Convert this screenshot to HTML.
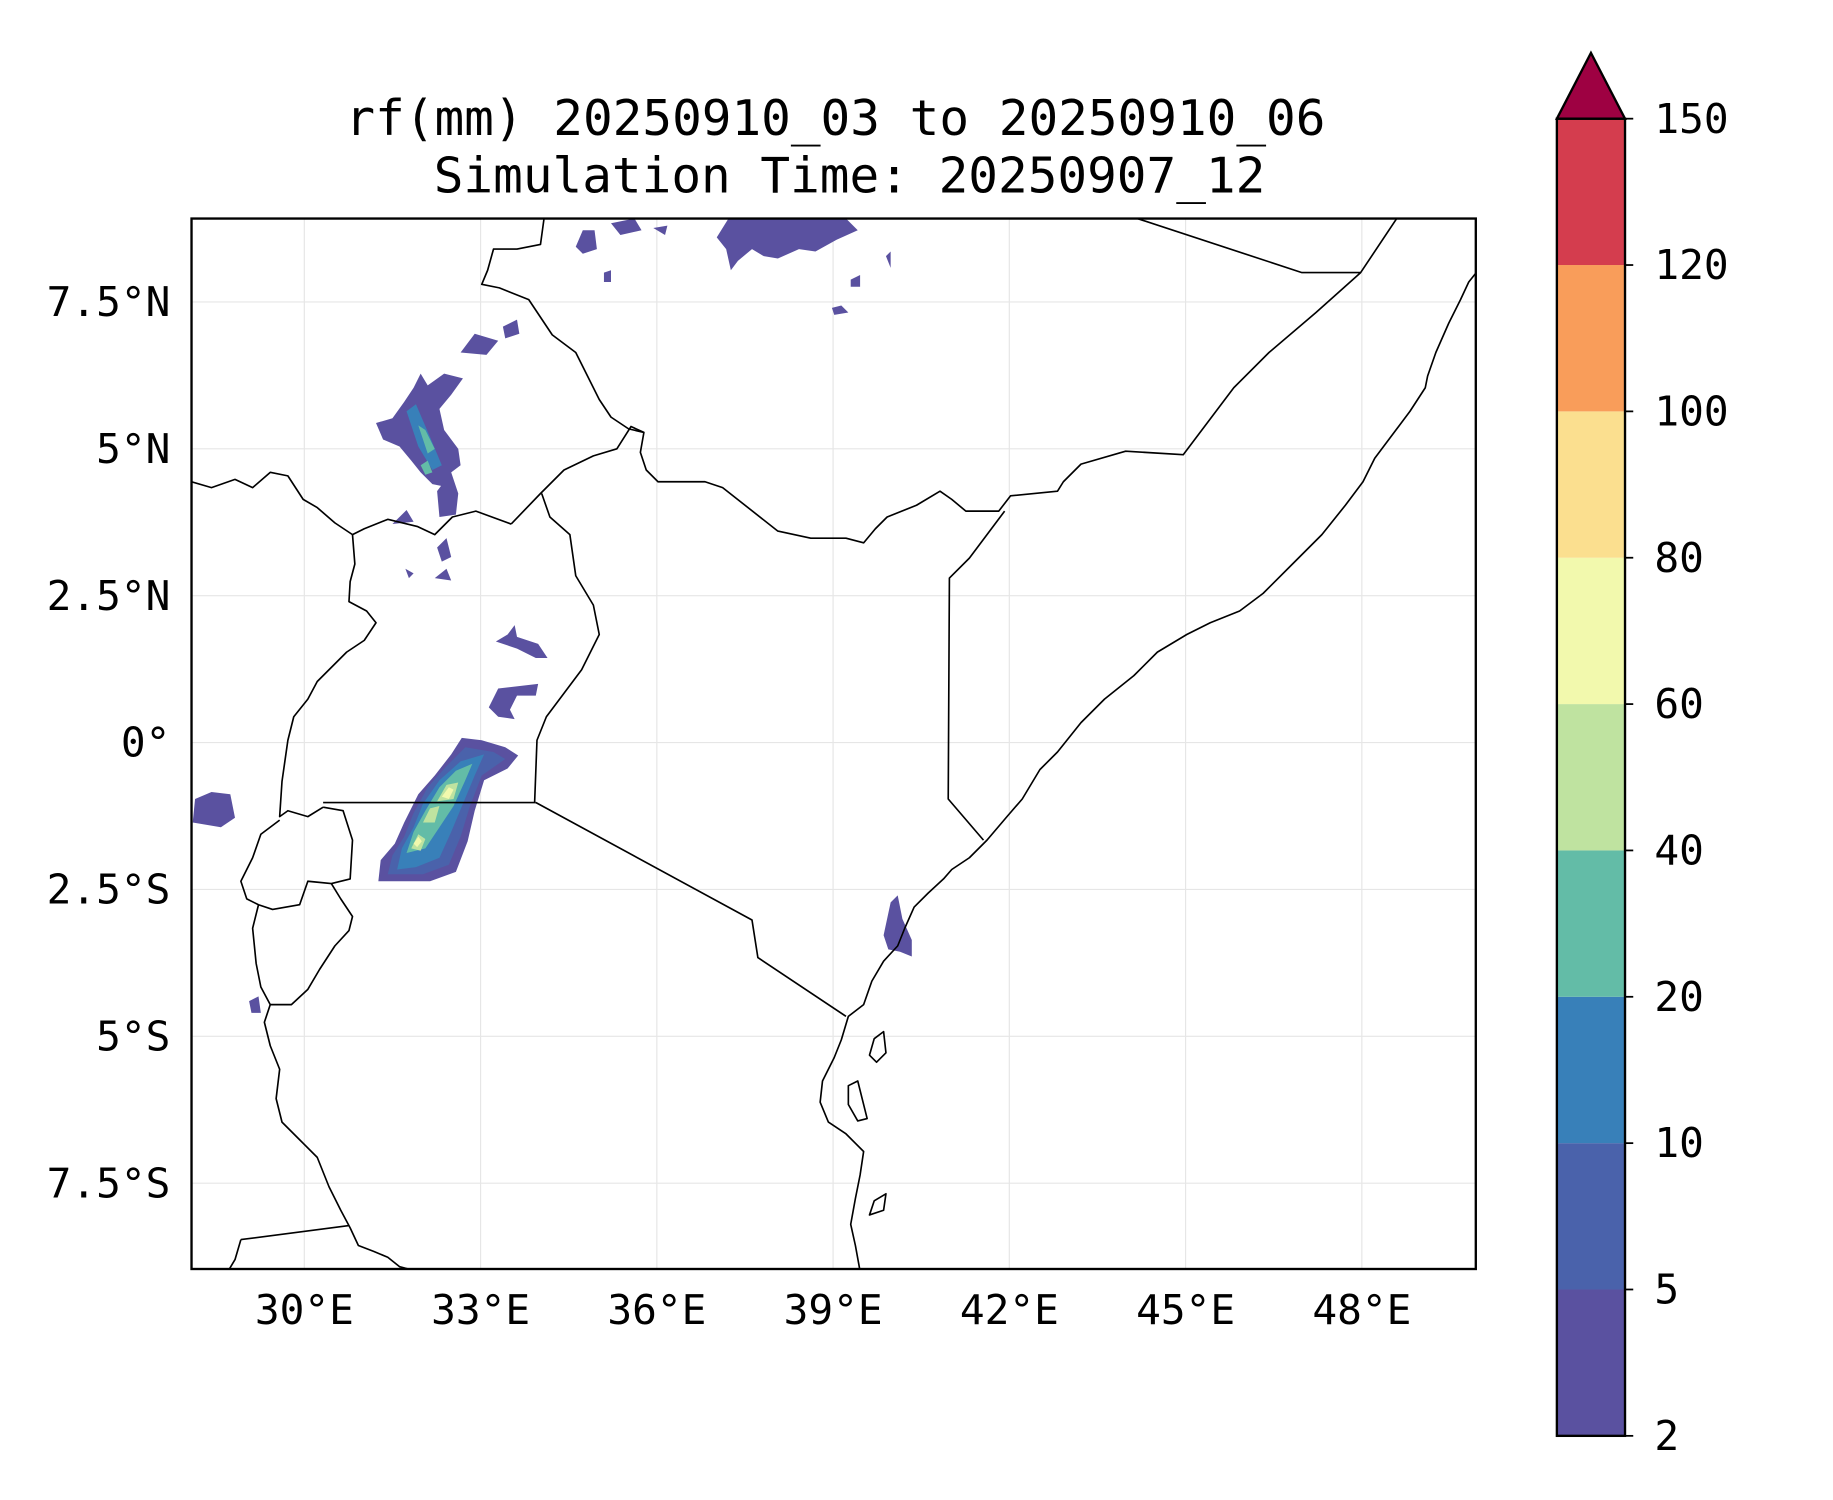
<!DOCTYPE html>
<html><head><meta charset="utf-8">
<style>
html,body{margin:0;padding:0;background:#fff;}
svg{display:block;}
text{font-family:"DejaVu Sans Mono","Liberation Mono",monospace;fill:#000;}
</style></head>
<body>
<svg id="chart" width="1833" height="1500" viewBox="0 0 1560 1276.6" xmlns="http://www.w3.org/2000/svg">
  <rect width="1560" height="1276.6" fill="#fff"/>
  <g>
    <text x="711" y="115" font-size="42" text-anchor="middle">rf(mm) 20250910_03 to 20250910_06</text>
    <text x="723" y="164" font-size="42" text-anchor="middle">Simulation Time: 20250907_12</text>
  </g>
  <defs><clipPath id="mapclip"><rect x="163" y="186" width="1093" height="894"/></clipPath></defs>
  <g id="grid"></g>
  <g clip-path="url(#mapclip)">
    <g>
      <!-- main Lake Victoria system -->
      <path fill="#5a51a0" d="M322,750 L324,732 L336,718 L344,700 L356,676 L370,660 L384,642 L393,628 L410,630 L430,636 L441,643 L432,654 L412,664 L404,690 L398,716 L388,742 L366,750 Z"/>
      <path fill="#4a62ab" d="M330,744 L334,728 L344,712 L352,692 L364,670 L380,652 L396,636 L420,640 L430,646 L410,660 L400,686 L392,712 L382,736 L360,744 Z"/>
      <path fill="#3880b9" d="M338,740 L342,722 L352,704 L360,684 L374,664 L392,648 L412,642 L404,660 L394,684 L384,708 L374,730 L354,738 Z"/>
      <path fill="#63bca7" d="M346,726 L352,708 L362,690 L374,670 L388,656 L402,650 L396,664 L386,686 L374,704 L362,722 Z"/>
      <path fill="#bfe3a0" d="M350,722 L356,710 L362,714 L358,724 Z M360,700 L366,688 L374,686 L370,700 Z M372,682 L380,668 L390,666 L386,680 Z"/>
      <path fill="#f2f9ad" d="M352,718 L356,712 L359,716 L355,721 Z M376,678 L382,670 L386,672 L382,680 Z"/>
      <!-- north blob South Sudan -->
      <path fill="#5a51a0" d="M320,360 L334,356 L344,342 L352,330 L358,318 L364,328 L378,318 L394,322 L384,336 L374,348 L378,366 L390,382 L392,396 L384,402 L378,414 L368,412 L358,402 L350,392 L340,380 L326,374 Z M372,418 L384,402 L390,420 L388,438 L374,440 Z M392,300 L404,284 L424,290 L414,302 Z M428,278 L440,272 L442,284 L430,288 Z M334,446 L346,434 L352,444 Z M372,466 L380,458 L384,474 L376,478 Z M370,492 L380,484 L384,494 Z"/>
      <path fill="#3880b9" d="M346,350 L354,344 L366,372 L376,396 L368,400 L356,380 Z"/>
      <path fill="#63bca7" d="M356,362 L362,366 L370,382 L364,386 Z M358,396 L364,392 L368,402 L362,404 Z"/>
      <!-- Ethiopia top -->
      <path fill="#5a51a0" d="M490,210 L496,196 L506,196 L508,212 L496,216 Z M520,190 L540,186 L546,196 L528,200 Z M556,194 L568,192 L566,200 Z M610,202 L620,186 L720,186 L730,196 L712,204 L694,214 L680,212 L662,220 L650,218 L640,212 L628,222 L622,230 L618,212 Z M514,232 L520,230 L520,240 L514,240 Z M724,238 L732,234 L732,244 L724,244 Z M708,262 L716,260 L722,266 L710,268 Z M754,218 L758,214 L758,228 Z"/>
      <!-- Kenya/Uganda small -->
      <path fill="#5a51a0" d="M422,546 L432,540 L438,532 L440,542 L458,548 L466,560 L456,560 L440,552 Z M424,586 L458,582 L456,592 L440,592 L434,604 L438,612 L424,610 L416,602 Z M166,680 L180,674 L196,676 L200,696 L188,704 L164,700 Z M212,852 L220,848 L222,862 L214,862 Z M758,768 L764,762 L768,782 L776,800 L776,814 L766,810 L756,808 L752,796 Z M345,484 L352,488 L348,492 Z"/>
    </g>
    <g fill="none" stroke="#000" stroke-width="1.4" stroke-linejoin="round">
      <path d="M1258,230 L1250,240 L1243,255 L1233,275 L1222,300 L1215,320 L1213,330 L1200,350 L1185,370 L1170,390 L1160,410 L1145,430 L1125,455 L1100,480 L1075,505 L1055,520 L1030,530 L1010,540 L985,555 L965,575 L940,595 L920,615 L900,640 L885,655 L870,680 L857,695 L840,715 L825,730 L810,740 L803,748 L790,760 L778,772 L770,790 L764,805 L752,818 L742,835 L735,855 L722,865 L716,885 L710,900 L700,920 L698,938 L705,955 L720,965 L735,980 L732,1000 L728,1020 L724,1042 L728,1060 L732,1082"/>
      <path d="M744,884 L752,878 L754,896 L746,904 L740,898 Z"/>
      <path d="M722,924 L730,920 L734,936 L738,952 L730,954 L722,940 Z"/>
      <path d="M744,1022 L754,1016 L752,1030 L740,1034 Z"/>
      <path d="M968,186 L1108,232 L1158,232 L1190,184 M1158,232 L1120,266 L1080,300 L1050,330 L1007,387 L958,384 L920,395 L905,410 L900,418 L860,422 L850,435 L822,435 L810,425 L800,418 L780,430 L755,440 L745,450 L735,462 L720,458 L690,458 L662,452 L615,415 L600,410 L560,410 L550,400 L545,385 L548,368 L537,363 L525,382 L505,388 L480,400 L460,420 L435,446"/>
      <path d="M855,435 L825,475 L808,492 L807,680 L837,715"/>
      <path d="M456,683 L640,783 L645,815 L720,865"/>
      <path d="M461,420 L468,440 L485,455 L490,490 L505,515 L510,540 L495,570 L480,590 L465,610 L457,630 L455,683"/>
      <path d="M275,683 L456,683"/>
      <path d="M463,186 L460,208 L440,212 L420,212 L415,230 L410,242 L425,245 L450,255 L460,270 L470,285 L490,300 L500,320 L510,340 L520,355 L535,365 L548,368"/>
      <path d="M435,446 L405,435 L385,440 L370,455 L355,448 L330,442 L310,450 L300,455"/>
      <path d="M163,410 L180,415 L200,408 L215,415 L230,402 L245,405 L258,425 L270,432 L285,445 L300,455"/>
      <path d="M300,455 L302,480 L298,495 L297,512 L312,520 L320,530 L310,545 L295,555 L280,570 L270,580 L262,595 L250,610 L245,630 L240,665 L238,695 L245,690 L262,695 L275,687"/>
      <path d="M275,687 L292,690 L300,715 L298,748 L282,752 L262,750 L255,770 L232,774 L220,770 L210,765 L205,750 L215,730 L222,710 L238,698"/>
      <path d="M220,770 L215,790 L218,820 L222,840 L230,855 L225,870 L230,890 L238,910 L235,935 L240,955 L255,970 L270,985 L280,1010 L290,1030 L298,1045 L305,1060 L318,1065 L330,1070 L340,1078 L355,1082 M230,855 L248,855 L262,842 L272,825 L285,805 L297,792 L300,780 L290,765 L282,752"/>
      <path d="M205,1055 L297,1043 M205,1055 L200,1072 L194,1082"/>
    </g>
  </g>
  <rect x="163" y="186" width="1093" height="894" fill="none" stroke="#000" stroke-width="2"/>
  <g id="ticks"></g>
  <g id="cbar"></g>
</svg>
<script>
const lonTicks = [30, 33, 36, 39, 42, 45, 48];
const lonLabels = ["30°E","33°E","36°E","39°E","42°E","45°E","48°E"];
const latTicks = [7.5, 5, 2.5, 0, -2.5, -5, -7.5];
const latLabels = ["7.5°N","5°N","2.5°N","0°","2.5°S","5°S","7.5°S"];
const cbarLevels = [2, 5, 10, 20, 40, 60, 80, 100, 120, 150];
const cbarColors = ["#5a51a0","#4a62ab","#3880b9","#63bca7","#bfe3a0","#f2f9ad","#fbdf8f","#f99d5a","#d43d4e"];
const extendColor = "#9e0142";

const NS = "http://www.w3.org/2000/svg";
const xLon = lon => 259 + (lon - 30) * 50;
const yLat = lat => 632 - lat * 50;
const cbTop = 101, cbBot = 1222, cbX = 1325, cbW = 58;
const yCb = i => cbBot - i * (cbBot - cbTop) / (cbarLevels.length - 1);
function mk(tag, attrs, parent){const e=document.createElementNS(NS,tag);for(const k in attrs)e.setAttribute(k,attrs[k]);parent.appendChild(e);return e;}

const grid = document.getElementById('grid');
const ticks = document.getElementById('ticks');
lonTicks.forEach((lon,i)=>{
  const l = mk('line',{x1:xLon(lon),x2:xLon(lon),y1:186,y2:1080,stroke:'#e6e6e6','stroke-width':1},grid);
  
  
  const t = mk('text',{x:xLon(lon),y:1127,'font-size':35,'text-anchor':'middle'},ticks);
  t.textContent = lonLabels[i];
  
  
});
latTicks.forEach((lat,i)=>{
  const l = mk('line',{x1:163,x2:1256,y1:yLat(lat),y2:yLat(lat),stroke:'#e6e6e6','stroke-width':1},grid);
  
  
  const t = mk('text',{x:145,y:yLat(lat)+12,'font-size':35,'text-anchor':'end'},ticks);
  t.textContent = latLabels[i];
  
  
});

const cb = document.getElementById('cbar');
cbarColors.forEach((c,i)=>{
  const r = mk('rect',{x:cbX,y:yCb(i+1),width:cbW,height:yCb(i)-yCb(i+1),fill:c},cb);
  
  
});
const tri = mk('polygon',{points:`${cbX},${cbTop} ${cbX+cbW/2},${cbTop-56} ${cbX+cbW},${cbTop}`,fill:extendColor,stroke:'#000','stroke-width':2},cb);


const outline = mk('rect',{x:cbX,y:cbTop,width:cbW,height:cbBot-cbTop,fill:'none',stroke:'#000','stroke-width':2},cb);


cbarLevels.forEach((v,i)=>{
  const tk = mk('line',{x1:cbX+cbW,x2:cbX+cbW+7,y1:yCb(i),y2:yCb(i),stroke:'#000','stroke-width':1.5},cb);
  
  
  const t = mk('text',{x:1408,y:yCb(i)+12,'font-size':35},cb);
  t.textContent = v;
  
  
});
</script>
</body></html>
